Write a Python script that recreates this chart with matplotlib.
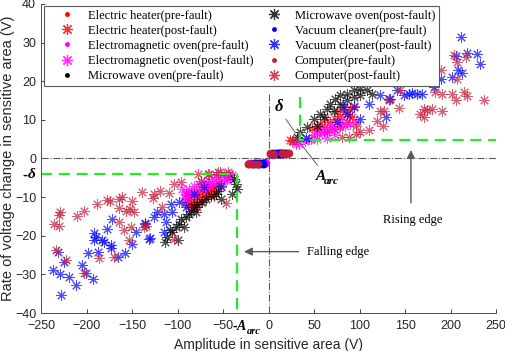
import matplotlib.pyplot as plt
from matplotlib.lines import Line2D

# ---- data ----
# pre-fault: two small clusters close to the origin
heater_pre_x = [-22, -19, -16, -13, -10, -7, -4, 3, 6, 9, 12, 15, 18, 21]
heater_pre_y = [-1.4, -1.2, -1.3, -1.1, -1.3, -1.2, -1.0, 1.1, 1.3, 1.2, 1.4, 1.3, 1.5, 1.4]
em_pre_x = [-21, -17, -14, -11, -8, -5, -3, 2, 5, 8, 11, 14, 17, 20]
em_pre_y = [-1.2, -1.4, -1.2, -1.4, -1.1, -1.3, -1.1, 1.2, 1.0, 1.4, 1.2, 1.5, 1.3, 1.2]
mw_pre_x = [-18, -15, -12, -9, -6, 4, 7, 10, 13, 16, 19]
mw_pre_y = [-1.3, -1.2, -1.4, -1.2, -1.3, 1.3, 1.2, 1.4, 1.3, 1.4, 1.3]
vac_pre_x = [-16, -13, -10, -8, -6, 5, 8, 10, 12, 14, 17]
vac_pre_y = [-1.2, -1.3, -1.2, -1.4, -1.2, 1.2, 1.3, 1.2, 1.4, 1.3, 1.2]
comp_pre_x = [-23, -20, -18, -15, -12, 2, 6, 15, 18, 21, 23]
comp_pre_y = [-1.5, -1.3, -1.5, -1.4, -1.5, 1.3, 1.1, 1.4, 1.2, 1.5, 1.3]

# post-fault
heater_post_x = [-89, -85.7, -82, -85.7, -80, -76.6, -72.9, -69.2, -63.7, -67.4, -74.7, -78.4,
                 -91, -58, -84, -92, -88, -83, -70, -66, -61, -55, -52, -60, -79,
                 60.8, 68, 73.6, 79, 84.6, 90, 93.7, 64.5, 71.8, 79, 86.5, 92, 53.5, 57,
                 48, 62, 75, 82, 88, 24]
heater_post_y = [-10.4, -9.6, -8.7, -11.3, -10.4, -9.6, -8.7, -7.9, -7.4, -9.1, -11.3, -12.6,
                 -9.1, -7.0, -12.6, -11.5, -12.0, -11.8, -10.0, -8.8, -8.2, -6.4, -7.5, -9.8, -9.2,
                 8.1, 9.4, 10.3, 11.1, 12.0, 12.9, 13.7, 6.8, 7.7, 8.5, 9.4, 10.7, 7.3, 9.0,
                 8.0, 10.2, 12.3, 13.4, 11.0, 4.7]
em_post_x = [-91, -87.6, -82, -76.6, -71, -65.6, -60, -54.6, -49, -43.6, -40, -85.7, -78.4,
             -69, -62, -52.7, -45.4, -89, -74.7, -58, -95, -93, -47, -42, -67,
             44, 49.8, 55, 60.8, 66, 71.8, 77.3, 84.6, 90, 95.6, 53.5, 64.5, 73.6, 33, 29.7,
             57, 68, 80, 40, 47]
em_post_y = [-8.7, -7.9, -7.0, -6.6, -6.1, -5.7, -5.3, -4.8, -4.4, -4.0, -4.4, -9.1, -8.3,
             -7.4, -6.6, -5.7, -5.3, -9.9, -7.4, -4.4, -8.0, -10.2, -5.6, -4.9, -6.5,
             5.1, 6.0, 6.4, 6.8, 7.3, 7.7, 8.1, 8.5, 9.0, 9.4, 5.1, 5.4, 6.0, 3.8, 3.8,
             7.7, 8.5, 10.0, 4.5, 5.0]
mw_post_x = [-114, -111, -106, -102, -98, -96.7, -91, -87.6, -85.7, -82, -78.4, -72.9, -69,
             -63.7, -58, -56, -52.7, -40, -36, -34.4, -38, -100, -93, -108, -80,
             35, 31.5, 49.8, 57, 64.5, 68, 73.6, 79, 86.5, 93.7, 101, 108.5, 114, 60.8,
             71.8, 79, 86.5, 93.7, 53.5, 101, 42]
mw_post_y = [-21.7, -20.4, -19.1, -17.8, -17.0, -15.6, -15.2, -14.3, -13.5, -12.6, -11.7, -11.3, -10.4,
             -9.6, -9.1, -8.3, -10.4, -9.1, -6.6, -7.9, -5.3, -21.2, -17.6, -18.5, -13.8,
             6.8, 5.5, 10.3, 11.6, 12.9, 14.2, 15.5, 16.3, 16.8, 17.6, 18.0, 17.6, 16.8, 10.7,
             12.4, 14.2, 15.0, 15.9, 8.5, 16.3, 8.2]
vac_post_x = [-231.5, -225, -236.6, -228.6, -219.5, -211, -228, -204.7, -201, -192.6, -198.5,
              -192, -190, -192, -182.8, -181, -187.6, -178, -173.6, -173.6, -171.8, -165.6, -158,
              -150, -146, -136, -131.5, -136, -130.5, -123, -126, -115, -113, -107.7, -105.8,
              -115, -98.6, -91.2, -82, -71, -52.7,
              211, 218, 229, 232, 208, 213, 202, 205.5, 181.7, 189, 169, 154, 158, 163, 148.7,
              141.4, 128.6, 110, 123, 132, 101, 93.7, 82.7, 40.7, 75.5, 86.5, 134]
vac_post_y = [-24.3, -26.9, -28.8, -30.0, -30.7, -32.7, -35.4, -27.5, -29.7, -31.2, -24.4,
              -19.3, -20.2, -21.0, -21.2, -21.7, -24.3, -18.2, -22.3, -23.1, -15.6, -25.4, -24.5,
              -22.1, -19.1, -16.9, -20.8, -16.8, -20.5, -13.9, -15.2, -14.3, -16.5, -11.7, -13.9,
              -19.1, -11.3, -12.6, -9.1, -7.4, -7.0,
              31.3, 27.3, 27.1, 24.5, 22.8, 22.1, 21.0, 26.4, 18.5, 20.6, 16.8, 16.6, 16.9, 16.8, 16.3,
              17.6, 10.7, 14.2, 16.3, 15.5, 10.3, 13.3, 13.3, 5.4, 9.4, 11.6, 15.5]
comp_post_x = [-229, -230, -236, -230, -203, -210, -188, -178, -174, -164, -161, -164.5, -150,
               -152, -148, -164.5, -159, -151, -153.5, -234, -223, -186.5, -170, -203, -126,
               -126.7, -118.7, -109.5, -104, -96, -78, -65.6, -53.5, -44.7, -74.7, -47, -116.8,
               -137, -104, -139, -157, -135, -67, -56,
               203.7, 216.5, 207, 183.5, 191, 202, 205.5, 214.6, 218, 237, 170.7, 174.4, 180,
               167, 170.7, 191, 143, 126, 145, 126.7, 132, 119, 110, 101, 95.6, 88, 81, 27,
               96, 207, 189, 26, 123]
comp_post_y = [-13.9, -14.5, -17.0, -17.4, -13.5, -15.0, -11.7, -10.7, -11.0, -10.4, -10.0, -12.9, -11.0,
               -13.0, -13.9, -16.5, -18.5, -17.8, -21.2, -23.8, -26.2, -25.7, -25.6, -29.7, -9.2,
               -10.2, -8.5, -9.0, -6.7, -6.1, -4.0, -4.0, -3.5, -3.5, -5.7, -11.6, -12.6,
               -17.8, -20.8, -8.7, -13.5, -17.4, -4.0, -3.6,
               26.7, 26.2, 20.6, 17.2, 16.8, 16.6, 15.0, 17.2, 16.1, 15.0, 12.9, 12.6, 12.9,
               11.6, 10.7, 12.4, 13.1, 8.3, 17.6, 12.4, 15.0, 9.8, 7.3, 6.8, 6.4, 5.5, 5.5, 4.7,
               8.4, 25.0, 22.8, 4.5, 12.4]

labels = ['Electric heater(pre-fault)', 'Electric heater(post-fault)',
          'Electromagnetic oven(pre-fault)', 'Electromagnetic oven(post-fault)',
          'Microwave oven(pre-fault)', 'Microwave oven(post-fault)',
          'Vacuum cleaner(pre-fault)', 'Vacuum cleaner(post-fault)',
          'Computer(pre-fault)', 'Computer(post-fault)']

# thresholds used for the edge boxes
delta = 4.5
a_arc = 35

plt.rcParams['font.family'] = ['Liberation Sans', 'DejaVu Sans']
fig = plt.figure(figsize=(5.05, 3.51), dpi=100)
ax = fig.add_axes([0.0812, 0.108, 0.901, 0.881])

star = (8, 2, 0)
crimson = '#c41e3a'
series = [
    (heater_pre_x, heater_pre_y, 'red', '.'),
    (heater_post_x, heater_post_y, 'red', star),
    (em_pre_x, em_pre_y, 'magenta', '.'),
    (em_post_x, em_post_y, 'magenta', star),
    (mw_pre_x, mw_pre_y, 'black', '.'),
    (mw_post_x, mw_post_y, 'black', star),
    (vac_pre_x, vac_pre_y, 'blue', '.'),
    (vac_post_x, vac_post_y, 'blue', star),
    (comp_pre_x, comp_pre_y, crimson, '.'),
    (comp_post_x, comp_post_y, crimson, star),
]
for (x, y, c, m), lab in zip(series, labels):
    if m == '.':
        ax.plot(x, y, ls='none', marker='o', ms=4.5, color=c, mec=c)
    else:
        ax.plot(x, y, ls='none', marker=m, ms=7.5, mew=0.75, color=c, alpha=0.7)

# legend handles (small dots for pre-fault)
leg_handles = []
for (x, y, c, m), lab in zip(series, labels):
    if m == '.':
        leg_handles.append(Line2D([], [], ls='none', marker='o', ms=2.5, color=c, label=lab))
    else:
        leg_handles.append(Line2D([], [], ls='none', marker=m, ms=8, mew=0.9, color=c, alpha=0.8, label=lab))

# reference lines
ax.plot([-250, 250], [0, 0], ls='-.', color='0.35', lw=0.8)
ax.plot([0, 0], [-40, 17], ls='-.', color='0.35', lw=0.8)
green = '#22ee22'
ax.plot([-250, -a_arc, -a_arc], [-delta + 0.4, -delta + 0.4, -40], ls=(0, (5, 3)), color=green, lw=1.6)
ax.plot([a_arc, a_arc, 250], [16, delta + 0.4, delta + 0.4], ls=(0, (5, 3)), color=green, lw=1.6)

# annotations
serif = ['Liberation Serif', 'DejaVu Serif']
ax.text(11, 13.2, 'δ', fontsize=12, family=serif, fontweight='bold', style='italic',
        ha='center', va='center')
ax.plot([19, 29], [10.2, 6.8], color='0.3', lw=0.6)
ax.plot([54, 30], [-1.8, 5.5], color='0.3', lw=0.6)
ax.text(52, -4.6, 'A', fontsize=11, fontweight='bold', style='italic', family=serif, va='center')
ax.text(61, -6.0, 'arc', fontsize=8, fontweight='bold', style='italic', family=serif, va='center')

ax.annotate('', xy=(156.5, 2.9), xytext=(156.5, -12.2),
            arrowprops=dict(arrowstyle='-|>', color='0.35', lw=1.0, mutation_scale=12))
ax.text(158, -14.4, 'Rising edge', fontsize=9, family=serif, ha='center', va='top')
ax.annotate('', xy=(-30, -24.1), xytext=(36, -24.1),
            arrowprops=dict(arrowstyle='-|>', color='0.35', lw=1.0, mutation_scale=12))
ax.text(42, -24.1, 'Falling edge', fontsize=9, family=serif, ha='left', va='center')

# -delta and -A_arc labels outside the axes
ax.text(-0.03, -delta + 0.4, '-', transform=ax.get_yaxis_transform(),
        fontweight='bold', ha='right', va='center', fontsize=11, clip_on=False)
ax.text(-0.012, -delta + 0.4, 'δ', transform=ax.get_yaxis_transform(), family=serif,
        fontweight='bold', style='italic', ha='right', va='center', fontsize=11, clip_on=False)
ax.text(-40, -0.042, '-', transform=ax.get_xaxis_transform(), fontsize=10,
        fontweight='bold', ha='left', va='center', clip_on=False)
ax.text(-35, -0.042, 'A', transform=ax.get_xaxis_transform(), fontsize=10, family=serif,
        fontweight='bold', style='italic', ha='left', va='center', clip_on=False)
ax.text(-24, -0.06, 'arc', transform=ax.get_xaxis_transform(), fontsize=7.5, family=serif,
        fontweight='bold', style='italic', ha='left', va='center', clip_on=False)

ax.set_xlim(-250, 250)
ax.set_ylim(-40, 40)
ax.set_xticks(range(-250, 251, 50))
ax.set_yticks(range(-40, 41, 10))
ax.tick_params(direction='in', length=3, labelsize=9, colors='0.15', width=0.6)
ax.tick_params(axis='x', pad=5)
for s in ['top', 'right']:
    ax.spines[s].set_visible(False)
for s in ['left', 'bottom']:
    ax.spines[s].set_color('0.3')
    ax.spines[s].set_linewidth(0.7)
ax.set_xlabel('Amplitude in sensitive area (V)', fontsize=10, labelpad=4, color='0.15')
ax.set_ylabel('Rate of voltage change in sensitive area (V)', fontsize=10.5, labelpad=0, color='0.15')

leg = ax.legend(handles=leg_handles, ncol=2, loc='upper left',
                bbox_to_anchor=(0.0066, 0.9935),
                prop={'family': serif, 'size': 9}, frameon=True, fancybox=False,
                edgecolor='0.35', framealpha=1, borderpad=0.3, labelspacing=0.25,
                handlelength=3.1, handletextpad=0.1, columnspacing=0.1, borderaxespad=0)
leg.get_frame().set_linewidth(0.8)

fig.savefig('out.png', dpi=100)
